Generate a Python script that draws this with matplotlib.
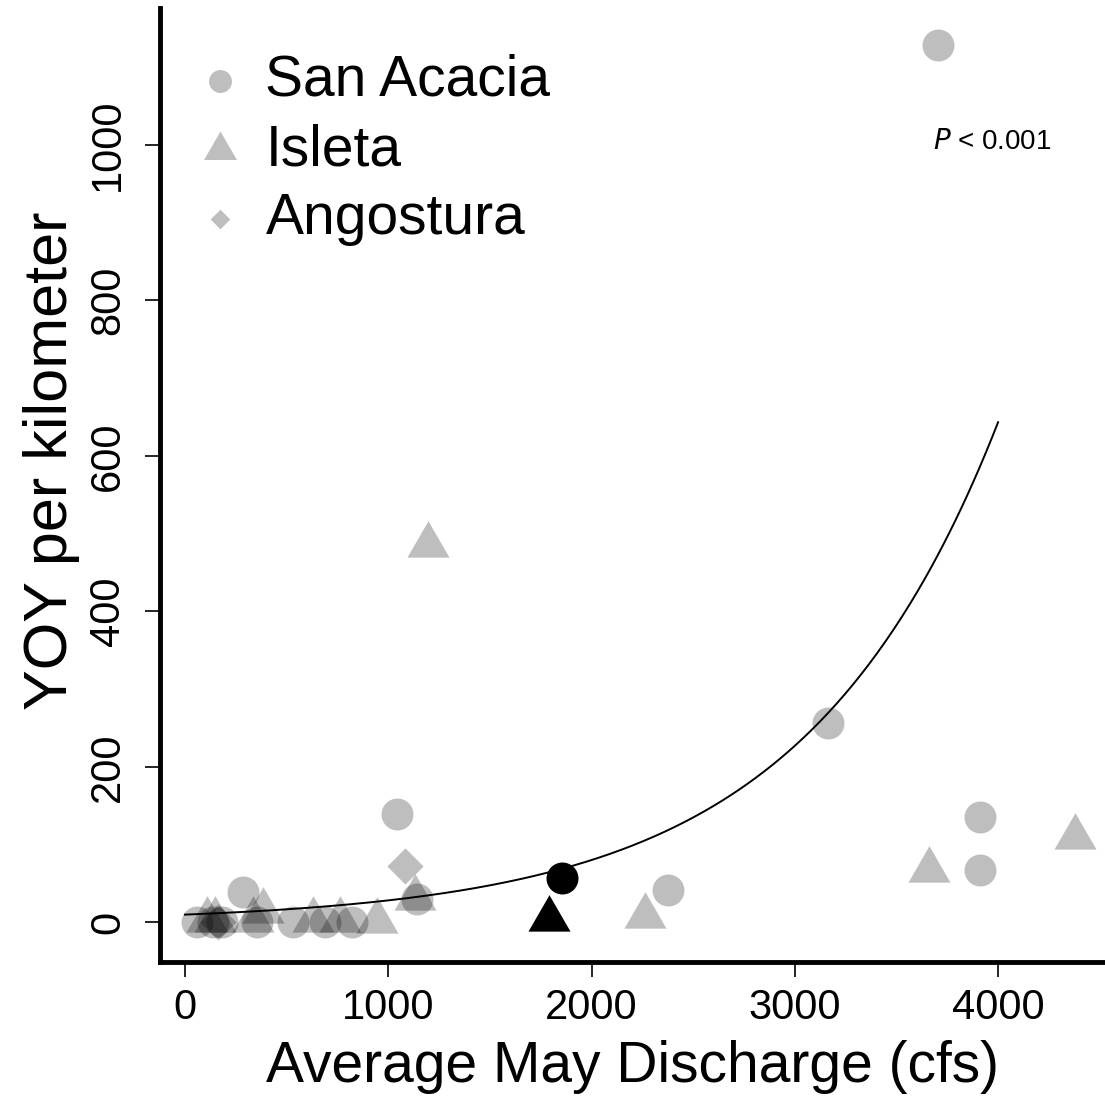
import numpy as np
import matplotlib
matplotlib.use("Agg")
import matplotlib.pyplot as plt

plt.rcParams["font.family"] = ["Liberation Sans", "DejaVu Sans"]

# San Acacia (circles)
sa_x = [57, 138, 182, 354, 532, 689, 822, 285, 1043, 1141, 2376, 3164, 3705, 3911, 3911]
sa_y = [0, 0, 0, 0, 0, 0, 0, 39, 140, 30, 42, 257, 1129, 136, 67]
# Isleta (triangles)
is_x = [108, 148, 335, 384, 630, 763, 945, 1132, 1195, 2265, 3660, 4380]
is_y = [3, 3, 3, 15, 3, 3, 2, 32, 485, 8, 68, 110]
# Angostura (diamonds)
an_x = [1082, 160]
an_y = [72, 0]
# highlighted year (black)
hl_circle = (1855, 57)
hl_tri = (1791, 5)
# exponential fit y = a * exp(b * x), x in 0..4000
fit_a, fit_b = 10.0, 0.001041
fit_xmax = 4000

tri = [(-1, -0.577), (1, -0.577), (0, 1.155)]
gray = (0, 0, 0, 0.255)

fig = plt.figure(figsize=(11.05, 11.01), dpi=100)
ax = fig.add_axes([0.1448, 0.1262, 0.8552, 0.8665])

ax.scatter(sa_x, sa_y, s=530, marker="o", color=gray, linewidths=0)
ax.scatter(is_x, is_y, s=1225, marker=tri, color=gray, linewidths=0)
ax.scatter(an_x, an_y, s=340, marker="D", color=gray, linewidths=0)
ax.scatter([hl_circle[0]], [hl_circle[1]], s=530, marker="o", color="black", linewidths=0, zorder=4)
ax.scatter([hl_tri[0]], [hl_tri[1]], s=1225, marker=tri, color="black", linewidths=0, zorder=4)

xf = np.linspace(0, fit_xmax, 400)
ax.plot(xf, fit_a * np.exp(fit_b * xf), color="black", lw=1.4, zorder=5)

ax.set_xlim(-123, 4526)
ax.set_ylim(-51, 1176)
ax.set_xticks([0, 1000, 2000, 3000, 4000])
ax.set_yticks([0, 200, 400, 600, 800, 1000])
ax.tick_params(axis="both", labelsize=30, length=11, width=1.2, direction="out")
ax.tick_params(axis="x", pad=8)
ax.tick_params(axis="y", pad=12)
for lbl in ax.get_yticklabels():
    lbl.set_rotation(90)
    lbl.set_va("center")
for s in ["top", "right"]:
    ax.spines[s].set_visible(False)
for s in ["left", "bottom"]:
    ax.spines[s].set_linewidth(3.5)

ax.set_xlabel("Average May Discharge (cfs)", fontsize=41, labelpad=8)
ax.set_ylabel("YOY per kilometer", fontsize=44, labelpad=6)
ax.yaxis.label.set_y(0.525)

ax.text(0.818, 0.86, "$\\it{P}$ < 0.001", transform=ax.transAxes, fontsize=20,
        ha="left", va="center")

# legend
h1 = ax.scatter([], [], s=272, marker="o", color=gray, linewidths=0)
h2 = ax.scatter([], [], s=750, marker=tri, color=gray, linewidths=0)
h3 = ax.scatter([], [], s=100, marker="D", color=gray, linewidths=0)
ax.legend([h1, h2, h3], ["San Acacia", "Isleta", "Angostura"], loc="upper left",
          bbox_to_anchor=(-0.012, 0.988), frameon=False, fontsize=41, handletextpad=0.15,
          labelspacing=0.27, borderaxespad=0.2, handlelength=1.3)

fig.savefig("out.png", dpi=100)
